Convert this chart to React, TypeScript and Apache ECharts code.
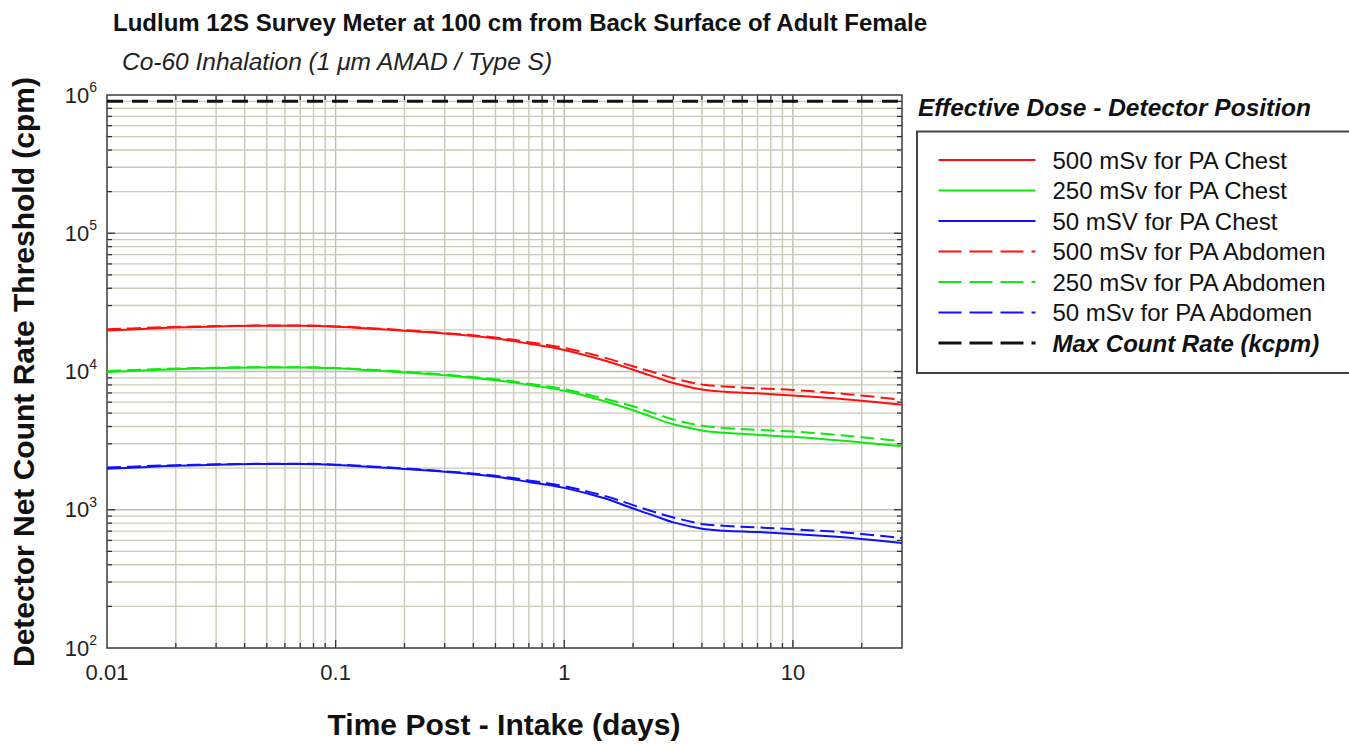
import React, { useEffect, useRef } from "react";
import * as echarts from "echarts";

const FONT = "'Liberation Sans', Arial, Helvetica, sans-serif";

// Time post-intake (days)
const days = [0.01, 0.015, 0.02, 0.03, 0.05, 0.07, 0.1, 0.15, 0.2, 0.3, 0.5, 0.7, 1, 1.5, 2, 2.5, 3, 4, 5, 7, 10, 15, 20, 30];

const chest500 = [19800, 20400, 20800, 21200, 21400, 21400, 21100, 20300, 19700, 18800, 17300, 15900, 14300, 12000, 10300, 9100, 8250, 7400, 7150, 6950, 6700, 6400, 6150, 5750];
const chest250 = [9900, 10200, 10400, 10600, 10700, 10700, 10550, 10150, 9850, 9400, 8650, 8000, 7250, 6100, 5250, 4600, 4150, 3750, 3600, 3480, 3370, 3200, 3070, 2880];
const chest50 = [1980, 2040, 2080, 2120, 2140, 2140, 2110, 2030, 1970, 1880, 1730, 1590, 1440, 1210, 1020, 900, 810, 730, 705, 690, 668, 640, 615, 575];
const abdomen500 = [20200, 20700, 21000, 21300, 21500, 21500, 21200, 20500, 19900, 19000, 17600, 16300, 14800, 12600, 10900, 9800, 8950, 8050, 7800, 7550, 7350, 7000, 6700, 6250];
const abdomen250 = [10100, 10350, 10500, 10650, 10750, 10750, 10600, 10250, 9950, 9500, 8800, 8150, 7450, 6350, 5600, 4950, 4500, 4050, 3900, 3780, 3680, 3500, 3350, 3120];
const abdomen50 = [2020, 2070, 2100, 2130, 2150, 2150, 2120, 2050, 1990, 1900, 1760, 1630, 1480, 1260, 1080, 960, 880, 790, 765, 745, 722, 695, 668, 624];

const maxCountDays = [0.01, 30];
const maxCountRate = [900000, 900000];

const seriesNames = [
  "500 mSv for PA Chest",
  "250 mSv for PA Chest",
  "50 mSV for PA Chest",
  "500 mSv for PA Abdomen",
  "250 mSv for PA Abdomen",
  "50 mSv for PA Abdomen",
  "Max Count Rate (kcpm)",
];

// grid / tick positions
const xGridMinor = [0.02, 0.03, 0.04, 0.05, 0.06, 0.07, 0.08, 0.09, 0.2, 0.3, 0.4, 0.5, 0.6, 0.7, 0.8, 0.9, 2, 3, 4, 5, 6, 7, 8, 9, 20];
const xGridMajor = [0.1, 1, 10];
const yGridMinor = [200, 300, 400, 500, 600, 700, 800, 900, 2000, 3000, 4000, 5000, 6000, 7000, 8000, 9000, 20000, 30000, 40000, 50000, 60000, 70000, 80000, 90000, 200000, 300000, 400000, 500000, 600000, 700000, 800000, 900000];
const yGridMajor = [1000, 10000, 100000];

const GRID_MINOR = "#cacab8";
const GRID_MAJOR = "#bdbdb2";
const TICK = "#333";

const zip = (xs: number[], ys: number[]) => xs.map((x, i) => [x, ys[i]]);

export default function App() {
  const ref = useRef<HTMLDivElement>(null);

  useEffect(() => {
    if (!ref.current) return;
    const chart = echarts.init(ref.current, null, { renderer: "svg" });

    const xGridData = [
      ...xGridMinor.map((v) => [v, 1000, 0]),
      ...xGridMajor.map((v) => [v, 1000, 1]),
    ];
    const yGridData = [
      ...yGridMinor.map((v) => [1, v, 0]),
      ...yGridMajor.map((v) => [1, v, 1]),
    ];

    const lineSeries = (name: string, data: number[], color: string, dashed: boolean) => ({
      name,
      type: "line",
      data: zip(days, data),
      showSymbol: false,
      symbol: "none",
      smooth: 0.35,
      z: 5,
      lineStyle: { color, width: 2, type: dashed ? [14, 6] : "solid" },
      itemStyle: { color },
    });

    const option: any = {
      animation: false,
      backgroundColor: "#ffffff",
      textStyle: { fontFamily: FONT },
      grid: {
        left: 107,
        top: 95,
        width: 795,
        height: 553,
        show: true,
        backgroundColor: "#ffffff",
        borderColor: "#3a3a3a",
        borderWidth: 1.5,
        containLabel: false,
      },
      xAxis: {
        type: "log",
        logBase: 10,
        min: 0.01,
        max: 30,
        axisLine: { show: false },
        axisTick: { show: false },
        splitLine: { show: false },
        axisLabel: {
          fontSize: 22,
          color: "#222",
          fontFamily: FONT,
          margin: 13,
          showMaxLabel: false,
          formatter: (v: number) => {
            const e = Math.log10(v);
            if (Math.abs(e - Math.round(e)) > 1e-6) return "";
            const r = Math.round(e);
            return r >= 0 ? String(Math.round(Math.pow(10, r))) : Math.pow(10, r).toFixed(-r);
          },
        },
      },
      yAxis: {
        type: "log",
        logBase: 10,
        min: 100,
        max: 1000000,
        axisLine: { show: false },
        axisTick: { show: false },
        splitLine: { show: false },
        axisLabel: {
          margin: 10,
          formatter: (v: number) => {
            const e = Math.round(Math.log10(v));
            return `{b|10}{s|${e}}`;
          },
          rich: {
            b: { fontSize: 22, color: "#222", fontFamily: FONT, lineHeight: 30 },
            s: { fontSize: 14, color: "#222", fontFamily: FONT, lineHeight: 16, verticalAlign: "top" },
          },
        },
      },
      legend: {
        left: 932,
        top: 143,
        orient: "vertical",
        itemWidth: 97,
        itemHeight: 2,
        itemGap: 6.5,
        selectedMode: false,
        itemStyle: { opacity: 0 },
        textStyle: {
          fontSize: 24,
          fontFamily: FONT,
          color: "#111",
          lineHeight: 24,
          padding: [0, 0, 0, 12],
          rich: {
            bi: { fontSize: 24, fontFamily: FONT, fontWeight: "bold", fontStyle: "italic", color: "#111", lineHeight: 24 },
          },
        },
        formatter: (name: string) => (name === "Max Count Rate (kcpm)" ? `{bi|${name}}` : name),
        data: seriesNames.map((n, i) =>
          i >= 3 && i <= 5
            ? { name: n, lineStyle: { type: [23, 8] } }
            : i === 6
            ? { name: n, lineStyle: { type: [23, 8], width: 3 } }
            : { name: n }
        ),
      },
      graphic: [
        {
          type: "text",
          left: 113,
          top: 10,
          style: { text: "Ludlum 12S Survey Meter at 100 cm from Back Surface of Adult Female", font: `bold 24px ${FONT}`, fill: "#111" },
        },
        {
          type: "text",
          left: 122,
          top: 49,
          style: { text: "Co-60 Inhalation (1 \u03bcm AMAD / Type S)", font: `italic 24.5px ${FONT}`, fill: "#222" },
        },
        {
          type: "text",
          x: 23,
          y: 372,
          rotation: Math.PI / 2,
          style: {
            text: "Detector Net Count Rate Threshold (cpm)",
            font: `bold 30px ${FONT}`,
            fill: "#111",
            align: "center",
            verticalAlign: "middle",
          },
        },
        {
          type: "text",
          x: 504,
          y: 724,
          style: {
            text: "Time Post - Intake (days)",
            font: `bold 30px ${FONT}`,
            fill: "#111",
            align: "center",
            verticalAlign: "middle",
          },
        },
        {
          type: "text",
          left: 918,
          top: 95,
          style: { text: "Effective Dose - Detector Position", font: `italic bold 24.5px ${FONT}`, fill: "#111" },
        },
        {
          type: "rect",
          shape: { x: 917, y: 131.5, width: 445, height: 241.5 },
          style: { fill: "none", stroke: "#444", lineWidth: 2 },
          z: 0,
        },
      ],
      series: [
        {
          type: "custom",
          name: "xgrid",
          data: xGridData,
          encode: { x: 0, y: 1 },
          z: 1,
          silent: true,
          clip: false,
          renderItem: (params: any, api: any) => {
            const cs = params.coordSys;
            const x = api.coord([api.value(0), 1000])[0];
            const major = api.value(2) === 1;
            const len = major ? 8 : 5;
            const bottom = cs.y + cs.height;
            return {
              type: "group",
              children: [
                { type: "line", shape: { x1: x, y1: cs.y, x2: x, y2: bottom }, style: { stroke: major ? GRID_MAJOR : GRID_MINOR, lineWidth: 1.4 } },
                { type: "line", shape: { x1: x, y1: bottom, x2: x, y2: bottom - len }, style: { stroke: TICK, lineWidth: 1.3 } },
                { type: "line", shape: { x1: x, y1: cs.y, x2: x, y2: cs.y + len }, style: { stroke: TICK, lineWidth: 1.3 } },
              ],
            };
          },
        },
        {
          type: "custom",
          name: "ygrid",
          data: yGridData,
          encode: { x: 0, y: 1 },
          z: 1,
          silent: true,
          clip: false,
          renderItem: (params: any, api: any) => {
            const cs = params.coordSys;
            const y = api.coord([1, api.value(1)])[1];
            const major = api.value(2) === 1;
            const len = major ? 8 : 5;
            const right = cs.x + cs.width;
            return {
              type: "group",
              children: [
                { type: "line", shape: { x1: cs.x, y1: y, x2: right, y2: y }, style: { stroke: major ? GRID_MAJOR : GRID_MINOR, lineWidth: 1.4 } },
                { type: "line", shape: { x1: cs.x, y1: y, x2: cs.x + len, y2: y }, style: { stroke: TICK, lineWidth: 1.3 } },
                { type: "line", shape: { x1: right, y1: y, x2: right - len, y2: y }, style: { stroke: TICK, lineWidth: 1.3 } },
              ],
            };
          },
        },
        lineSeries(seriesNames[0], chest500, "#ff1010", false),
        lineSeries(seriesNames[1], chest250, "#10e810", false),
        lineSeries(seriesNames[2], chest50, "#1010ff", false),
        lineSeries(seriesNames[3], abdomen500, "#ff1010", true),
        lineSeries(seriesNames[4], abdomen250, "#10e810", true),
        lineSeries(seriesNames[5], abdomen50, "#1010ff", true),
        {
          name: seriesNames[6],
          type: "line",
          data: zip(maxCountDays, maxCountRate),
          showSymbol: false,
          symbol: "none",
          z: 6,
          lineStyle: { color: "#111", width: 3, type: [16, 9] },
          itemStyle: { color: "#111" },
        },
      ],
    };

    chart.setOption(option);
    return () => chart.dispose();
  }, []);

  return (
    <div
      ref={ref}
      style={{ position: "absolute", left: 0, top: 0, width: 1349, height: 745, background: "#fff" }}
    />
  );
}
